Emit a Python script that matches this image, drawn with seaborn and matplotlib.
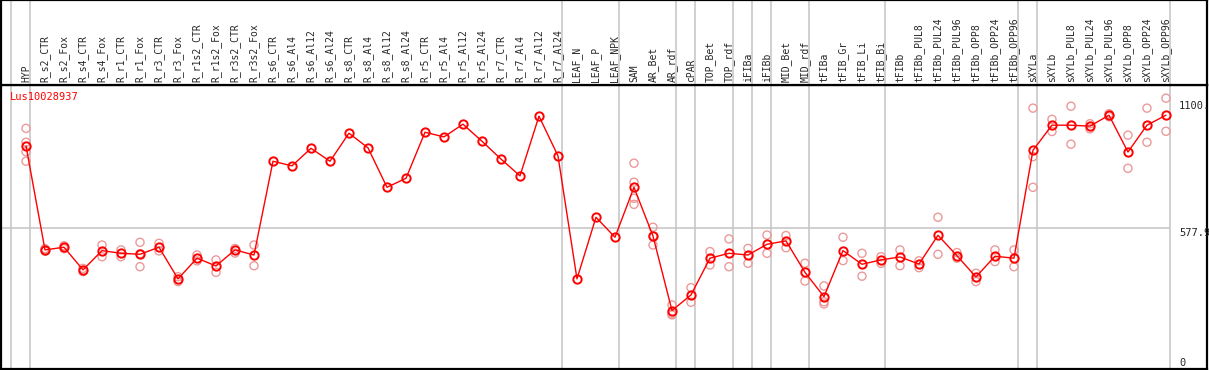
"""
Expression profile of Lus10028937 across tissues / treatments.
Mean per sample (red line) with replicate values (pink circles).
"""

import matplotlib

matplotlib.use("Agg")
import matplotlib.pyplot as plt
import matplotlib.transforms as mtransforms
import pandas as pd
import seaborn as sns

GENE = "Lus10028937"

samples = [
    "HYP", "R_s2_CTR", "R_s2_Fox", "R_s4_CTR", "R_s4_Fox", "R_r1_CTR", "R_r1_Fox",
    "R_r3_CTR", "R_r3_Fox", "R_r1s2_CTR", "R_r1s2_Fox", "R_r3s2_CTR", "R_r3s2_Fox",
    "R_s6_CTR", "R_s6_Al4", "R_s6_Al12", "R_s6_Al24", "R_s8_CTR", "R_s8_Al4",
    "R_s8_Al12", "R_s8_Al24", "R_r5_CTR", "R_r5_Al4", "R_r5_Al12", "R_r5_Al24",
    "R_r7_CTR", "R_r7_Al4", "R_r7_Al12", "R_r7_Al24", "LEAF_N", "LEAF_P", "LEAF_NPK",
    "SAM", "AR_Bet", "AR_rdf", "cPAR", "TOP_Bet", "TOP_rdf", "iFIBa", "iFIBb",
    "MID_Bet", "MID_rdf", "tFIBa", "tFIB_Gr", "tFIB_Li", "tFIB_Bi", "tFIBb",
    "tFIBb_PUL8", "tFIBb_PUL24", "tFIBb_PUL96", "tFIBb_OPP8", "tFIBb_OPP24",
    "tFIBb_OPP96", "sXYLa", "sXYLb", "sXYLb_PUL8", "sXYLb_PUL24", "sXYLb_PUL96",
    "sXYLb_OPP8", "sXYLb_OPP24", "sXYLb_OPP96",
]

means = [
    916, 489, 500, 407, 486, 475, 471, 500, 370, 455, 423, 489, 468,
    853, 834, 906, 853, 968, 908, 746, 783, 972, 953, 1005, 935, 862, 793, 1038, 875,
    370, 623, 541,
    746, 546, 240, 304, 455, 475, 468, 512, 526, 397, 297, 486, 430, 448,
    460, 431, 549, 465, 378, 463, 455,
    898, 1001, 1001, 997, 1042, 891, 1001, 1042,
]

replicates = [
    [988, 931, 892, 853], [494, 484, 489], [506, 494], [413, 400], [509, 461],
    [489, 461], [520, 473, 420], [516, 485], [379, 359], [468, 444], [448, 397],
    [495, 476], [509, 424],
    [], [], [], [], [], [], [], [], [], [], [], [], [], [], [], [],
    [], [], [],
    [845, 767, 701, 676], [582, 546, 509], [263, 227, 222], [334, 274],
    [482, 427], [534, 420], [495, 434], [550, 475], [548, 498], [434, 361],
    [341, 276, 267], [541, 445], [475, 381], [461, 434],
    [489, 424], [444, 416], [623, 471], [478, 455], [393, 359], [489, 441],
    [489, 420],
    [1071, 872, 746], [1025, 975], [1079, 923], [1007, 986], [1048, 1036],
    [960, 824], [1071, 931], [1112, 976],
]

# separator drawn right after these sample indices (-1 = before the first)
group_ends = [-1, 0, 28, 31, 34, 35, 37, 38, 39, 41, 45, 52, 53, 60]

mid_level = 577.9
label_levels = [1100, 577.9, 0]
label_texts = ["1100.", "577.9", "0"]

MEAN_RED = "#ff0000"
REP_PINK = "#eb9a9a"
SEP_GREY = "#c4c4c4"
MONO = "DejaVu Sans Mono"


def main():
    sns.set_style("white")
    plt.rcParams["font.family"] = [MONO, "DejaVu Sans"]

    idx = list(range(len(samples)))
    df_mean = pd.DataFrame({"x": idx, "value": means})
    df_rep = pd.DataFrame(
        [(i, v) for i, vals in enumerate(replicates) for v in vals],
        columns=["x", "value"],
    )

    W, H = 1209, 370
    fig = plt.figure(figsize=(W / 100, H / 100), dpi=100)
    ax = fig.add_axes([1 / W, 1 / H, 1206 / W, 284 / H])
    hx = fig.add_axes([1 / W, 285 / H, 1206 / W, 85 / H])

    xlim = (-1.316, 62.16)
    for a in (ax, hx):
        a.set_xlim(*xlim)
        a.set_xticks([])
        a.set_yticks([])
        for s in a.spines.values():
            s.set_color("black")
            s.set_linewidth(1.6)
        for g in group_ends:
            a.axvline(g + 0.21, color=SEP_GREY, lw=1.1, zorder=0)
    ax.set_ylim(0, 1166)
    hx.set_ylim(0, 1)

    ax.hlines(mid_level, xlim[0], group_ends[-1] + 0.21, color=SEP_GREY, lw=1.1, zorder=0)

    # replicate values
    sns.scatterplot(
        data=df_rep, x="x", y="value", ax=ax, marker="o", s=34,
        facecolors="none", edgecolor=REP_PINK, linewidth=1.0, zorder=2, legend=False,
    )
    # mean profile
    sns.lineplot(
        data=df_mean, x="x", y="value", ax=ax, color=MEAN_RED, lw=1.0,
        marker="o", markersize=6, markerfacecolor="none",
        markeredgecolor=MEAN_RED, markeredgewidth=1.4, zorder=3,
    )
    ax.set_xlabel("")
    ax.set_ylabel("")

    # sample names in the header strip
    trans = mtransforms.blended_transform_factory(hx.transData, hx.transAxes)
    for i, name in enumerate(samples):
        hx.text(i, 0.035, name, rotation=90, ha="center", va="bottom",
                fontsize=7, family=MONO, transform=trans)

    # value labels on the right
    for lvl, txt in zip(label_levels, label_texts):
        ax.text(60.68, lvl + (6 if lvl == 0 else 0), txt, ha="left",
                va="bottom" if lvl == 0 else "top", fontsize=7.5, family=MONO)

    ax.text(-0.84, 1117, GENE, color=MEAN_RED, ha="left", va="center",
            fontsize=7.5, family=MONO)

    fig.savefig("out.png", dpi=100)
    plt.close(fig)


if __name__ == "__main__":
    main()
